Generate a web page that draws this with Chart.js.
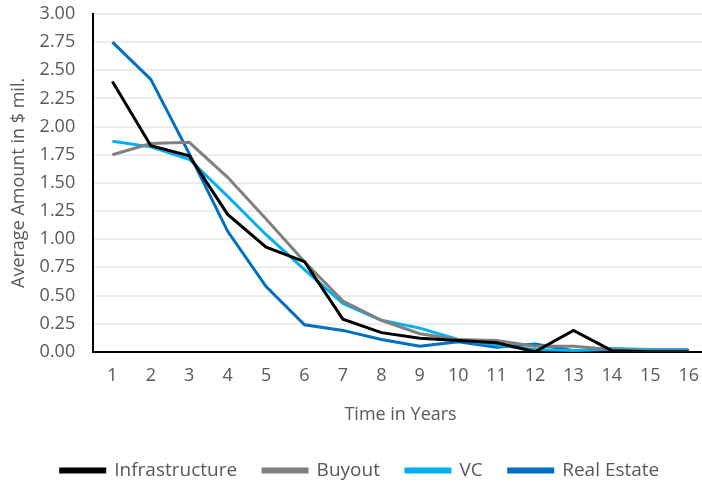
<!DOCTYPE html>
<html>
<head>
<meta charset="utf-8">
<script src="https://cdn.jsdelivr.net/npm/chart.js@4.4.1/dist/chart.umd.min.js"></script>
<style>
    body { margin: 0; background: #fff; overflow: hidden; }
    #wrap { width: 712px; height: 490px; }
</style>
</head>
<body>
<div id="wrap"><canvas id="chart"></canvas></div>
<script>
// years on the x axis
const years = ["1", "2", "3", "4", "5", "6", "7", "8", "9", "10", "11", "12", "13", "14", "15", "16"];

// average amounts in $ mil.
const infrastructure = [2.40, 1.83, 1.74, 1.22, 0.93, 0.80, 0.29, 0.17, 0.12, 0.10, 0.08, 0.00, 0.19, 0.01, 0.00, 0.00];
const buyout = [1.75, 1.85, 1.86, 1.55, 1.18, 0.80, 0.45, 0.28, 0.16, 0.11, 0.10, 0.05, 0.05, 0.02, 0.01, 0.01];
const vc = [1.87, 1.82, 1.71, 1.38, 1.04, 0.73, 0.43, 0.28, 0.21, 0.11, 0.06, 0.02, 0.01, 0.03, 0.02, 0.02];
const realEstate = [2.75, 2.42, 1.76, 1.07, 0.58, 0.24, 0.19, 0.11, 0.05, 0.09, 0.04, 0.07, 0.01, 0.02, 0.01, 0.00];

const textColor = "#595959";
const fontFamily = "'Open Sans', 'Liberation Sans', sans-serif";

function line(label, data, color) {
    return {
        label: label,
        data: data,
        borderColor: color,
        backgroundColor: color,
        borderWidth: 3,
        pointRadius: 0,
        tension: 0,
    };
}

let ctx = document.getElementById("chart").getContext("2d");

new Chart(ctx, {
    type: "line",
    data: {
        labels: years,
        datasets: [
            line("Infrastructure", infrastructure, "#000000"),
            line("Buyout", buyout, "#808080"),
            line("VC", vc, "#00B0F0"),
            line("Real Estate", realEstate, "#0070C0"),
        ],
    },
    options: {
        responsive: true,
        maintainAspectRatio: false,
        animation: false,
        layout: { padding: { top: 0, left: 8, right: 0, bottom: 0 } },
        scales: {
            x: {
                offset: true,
                grid: { display: false, drawTicks: false },
                border: { color: "#000", width: 2 },
                ticks: { color: textColor, font: { family: fontFamily, size: 18 }, padding: 13, maxRotation: 0 },
                title: { display: true, text: "Time in Years", color: textColor, font: { family: fontFamily, size: 18 }, padding: { top: 5, bottom: 9 } },
            },
            y: {
                min: 0,
                max: 3,
                grid: { color: "#EDEDED", lineWidth: 2, drawTicks: false },
                border: { color: "#000", width: 2 },
                ticks: {
                    stepSize: 0.25,
                    color: textColor,
                    font: { family: fontFamily, size: 18 },
                    padding: 18,
                    callback: (v) => v.toFixed(2),
                },
                title: { display: true, text: "Average Amount in $ mil.", color: textColor, font: { family: fontFamily, size: 18 }, padding: { top: 0, bottom: -8 } },
                // keep the top label's overhang small so the plot starts near the top edge
                afterFit: (scale) => {
                    scale.paddingTop = 14;
                },
            },
        },
        plugins: {
            legend: {
                position: "bottom",
                labels: {
                    color: textColor,
                    font: { family: fontFamily, size: 19 },
                    boxWidth: 44,
                    boxHeight: 3,
                    padding: 26,
                },
            },
            tooltip: { enabled: false },
        },
    },
});
</script>
</body>
</html>
